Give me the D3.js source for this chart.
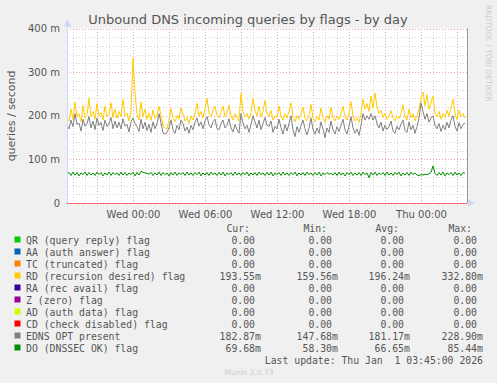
<!DOCTYPE html>
<html>
<head>
<meta charset="utf-8">
<script src="https://cdn.jsdelivr.net/npm/d3@7"></script>
<style>
  body { margin: 0; background: #f0f0f0; }
  svg { display: block; }
</style>
</head>
<body>
<script>
// legend labels, in drawing order
var labels = [
    'QR (query reply) flag',
    'AA (auth answer) flag',
    'TC (truncated) flag',
    'RD (recursion desired) flag',
    'RA (rec avail) flag',
    'Z (zero) flag',
    'AD (auth data) flag',
    'CD (check disabled) flag',
    'EDNS OPT present',
    'DO (DNSSEC OK) flag'
];
var colors = ['#00CC00', '#0066B3', '#FF8000', '#FFCC00', '#330099',
              '#990099', '#CCFF00', '#FF0000', '#808080', '#008F00'];

// legend stats
var curVals = ['0.00', '0.00', '0.00', '193.55m', '0.00', '0.00', '0.00', '0.00', '182.87m', '69.68m'];
var minVals = ['0.00', '0.00', '0.00', '159.56m', '0.00', '0.00', '0.00', '0.00', '147.68m', '58.30m'];
var avgVals = ['0.00', '0.00', '0.00', '196.24m', '0.00', '0.00', '0.00', '0.00', '181.17m', '66.65m'];
var maxVals = ['0.00', '0.00', '0.00', '332.80m', '0.00', '0.00', '0.00', '0.00', '228.90m', '85.44m'];

// y ticks (milli queries / second)
var yTicks = [0, 100, 200, 300, 400];

// series, in m (1e-3) queries/second, one sample every 10 minutes
var rd = [
    195, 188, 215, 192, 231, 198, 205, 186, 224, 195, 201, 240, 199, 210, 192, 228, 200, 207, 190, 222,
    198, 205, 230, 196, 215, 194, 210, 198, 238, 200, 206, 188, 212, 332, 252, 205, 190, 232, 198, 215,
    192, 206, 189, 214, 193, 202, 222, 200, 176, 172, 170, 190, 217, 195, 186, 200, 192, 218, 205, 188,
    196, 182, 200, 190, 205, 228, 200, 210, 195, 215, 240, 205, 198, 212, 222, 200, 196, 208, 222, 198,
    206, 224, 200, 190, 205, 195, 188, 251, 210, 198, 205, 192, 208, 240, 212, 200, 222, 198, 210, 235,
    205, 198, 212, 190, 200, 196, 222, 200, 190, 205, 195, 210, 230, 198, 186, 200, 192, 205, 220, 195,
    188, 200, 226, 195, 186, 198, 190, 218, 196, 185, 200, 192, 220, 196, 188, 200, 192, 205, 222, 198,
    190, 205, 232, 200, 188, 196, 185, 205, 238, 215, 228, 210, 245, 218, 252, 220, 205, 212, 196, 205,
    192, 200, 212, 195, 188, 200, 194, 205, 225, 198, 190, 215, 196, 205, 188, 200, 215, 240, 254, 222,
    248, 215, 230, 245, 205, 198, 210, 192, 205, 196, 212, 200, 220, 238, 205, 192, 212, 198, 205, 194
];
var edns = [
    178, 170, 190, 175, 205, 180, 183, 165, 192, 176, 182, 198, 172, 188, 168, 195, 178, 185, 166, 190,
    175, 182, 196, 170, 188, 172, 185, 170, 193, 176, 180, 163, 186, 195, 182, 175, 164, 192, 170, 185,
    166, 180, 162, 186, 170, 182, 205, 184, 160, 158, 162, 172, 190, 168, 160, 178, 168, 190, 182, 165,
    174, 160, 178, 168, 185, 195, 176, 186, 170, 188, 198, 180, 172, 186, 192, 170, 168, 182, 190, 172,
    178, 193, 172, 163, 180, 168, 160, 205, 183, 170, 178, 162, 180, 200, 186, 172, 190, 168, 182, 196,
    178, 175, 188, 162, 176, 170, 192, 172, 158, 180, 165, 182, 200, 168, 152, 175, 162, 178, 190, 170,
    156, 172, 195, 168, 158, 172, 160, 186, 170, 150, 172, 162, 188, 168, 158, 175, 164, 178, 192, 168,
    158, 176, 198, 172, 160, 170, 155, 178, 205, 190, 200, 192, 205, 190, 200, 182, 172, 185, 165, 178,
    168, 175, 188, 165, 160, 176, 168, 180, 190, 166, 162, 186, 168, 178, 160, 175, 195, 229, 210, 192,
    205, 185, 195, 200, 178, 170, 182, 164, 178, 168, 185, 172, 190, 200, 176, 165, 184, 170, 180, 183
];
var dnssec = [
    66, 70, 63, 71, 64, 70, 62, 69, 65, 71, 63, 70, 64, 69, 63, 71, 65, 70, 62, 69,
    64, 71, 63, 70, 65, 69, 63, 71, 64, 70, 63, 69, 65, 71, 62, 70, 64, 73, 70, 69,
    68, 66, 70, 63, 69, 64, 71, 63, 70, 65, 69, 62, 70, 64, 71, 63, 69, 65, 70, 63,
    71, 64, 69, 63, 70, 65, 71, 62, 69, 64, 70, 63, 71, 65, 69, 63, 70, 64, 71, 62,
    69, 65, 70, 63, 71, 64, 69, 63, 70, 65, 71, 62, 69, 64, 70, 63, 71, 65, 69, 63,
    70, 64, 71, 62, 69, 65, 70, 63, 71, 64, 69, 63, 70, 65, 71, 62, 69, 64, 70, 63,
    71, 65, 69, 63, 70, 64, 71, 62, 69, 65, 70, 66, 68, 64, 70, 63, 71, 64, 69, 62,
    70, 65, 71, 63, 69, 64, 70, 63, 71, 65, 69, 58, 70, 64, 71, 63, 69, 65, 70, 63,
    71, 64, 69, 63, 70, 65, 71, 62, 69, 64, 70, 63, 71, 65, 69, 64, 63, 65, 64, 66,
    65, 67, 70, 85, 68, 63, 70, 64, 71, 62, 69, 65, 70, 63, 71, 64, 69, 63, 70, 68
];

// init
var width  = 497,
    height = 383,
    plot   = { left: 67, right: 467, top: 28.5, bottom: 203 };

var tStart = Date.UTC(2025, 11, 30, 18, 30),
    tEnd   = Date.UTC(2026, 0, 1, 3, 50),
    step   = 600000;

var xScale = d3.scaleUtc().domain([new Date(tStart), new Date(tEnd)]).range([plot.left, plot.right]);
var yScale = d3.scaleLinear().domain([0, 400]).range([plot.bottom, plot.top]);

var svg = d3.select('body').append('svg')
    .attr('width', width)
    .attr('height', height)
    .style('font-family', 'DejaVu Sans');

svg.append('rect').attr('width', width).attr('height', height).attr('fill', '#f0f0f0');
svg.append('rect')
    .attr('x', plot.left).attr('y', plot.top)
    .attr('width', plot.right - plot.left).attr('height', plot.bottom - plot.top)
    .attr('fill', '#fff');

// grid
function drawGrid() {
    var g = svg.append('g').attr('shape-rendering', 'crispEdges');
    // minor vertical, every hour
    g.selectAll('.vmin').data(xScale.ticks(d3.utcHour.every(1)))
        .join('line')
        .attr('x1', d => Math.round(xScale(d)) + 0.5).attr('x2', d => Math.round(xScale(d)) + 0.5)
        .attr('y1', plot.top).attr('y2', plot.bottom)
        .attr('stroke', '#d4d4d4').attr('stroke-dasharray', '1,2');
    // minor horizontal, every 20 m
    g.selectAll('.hmin').data(d3.range(0, 401, 20))
        .join('line')
        .attr('x1', plot.left).attr('x2', plot.right)
        .attr('y1', d => Math.round(yScale(d)) + 0.5).attr('y2', d => Math.round(yScale(d)) + 0.5)
        .attr('stroke', '#d4d4d4').attr('stroke-dasharray', '1,2');
    // major vertical, every 3 hours
    g.selectAll('.vmaj').data(xScale.ticks(d3.utcHour.every(3)))
        .join('line')
        .attr('x1', d => Math.round(xScale(d)) + 0.5).attr('x2', d => Math.round(xScale(d)) + 0.5)
        .attr('y1', plot.top).attr('y2', plot.bottom)
        .attr('stroke', '#eba3a3').attr('stroke-dasharray', '1,2');
    // major horizontal
    g.selectAll('.hmaj').data(yTicks)
        .join('line')
        .attr('x1', plot.left).attr('x2', plot.right)
        .attr('y1', d => Math.round(yScale(d)) + 0.5).attr('y2', d => Math.round(yScale(d)) + 0.5)
        .attr('stroke', '#eba3a3').attr('stroke-dasharray', '1,2');
}

// axes
function drawAxes() {
    var yAxis = d3.axisLeft(yScale)
        .tickValues(yTicks)
        .tickSize(0).tickPadding(7)
        .tickFormat(d => d === 0 ? '0' : d + ' m');
    var gy = svg.append('g').attr('transform', 'translate(' + plot.left + ',0)').call(yAxis);
    gy.select('.domain').remove();
    gy.selectAll('text').attr('fill', '#555').style('font-size', '10px').style('font-family', 'DejaVu Sans');

    var xAxis = d3.axisBottom(xScale)
        .ticks(d3.utcHour.every(6))
        .tickSize(0).tickPadding(8)
        .tickFormat(d3.utcFormat('%a %H:%M'));
    var gx = svg.append('g').attr('transform', 'translate(0,' + plot.bottom + ')').call(xAxis);
    gx.select('.domain').remove();
    gx.selectAll('text').attr('fill', '#555').style('font-size', '10px').style('font-family', 'DejaVu Sans');

    // axis lines and arrows
    svg.append('line')
        .attr('x1', plot.left + 0.5).attr('x2', plot.left + 0.5)
        .attr('y1', plot.top - 4).attr('y2', plot.bottom)
        .attr('stroke', '#CFD6F8');
    svg.append('path')
        .attr('d', 'M' + (plot.left - 3) + ',' + (plot.top - 2) + 'L' + (plot.left + 0.5) + ',' + (plot.top - 9) + 'L' + (plot.left + 4) + ',' + (plot.top - 2) + 'Z')
        .attr('fill', '#CFD6F8');
    svg.append('path')
        .attr('d', 'M' + (plot.right + 1) + ',' + (plot.bottom - 3.5) + 'L' + (plot.right + 8) + ',' + plot.bottom + 'L' + (plot.right + 1) + ',' + (plot.bottom + 3.5) + 'Z')
        .attr('fill', '#CFD6F8');
    svg.append('line')
        .attr('x1', plot.right + 0.5).attr('x2', plot.right + 0.5)
        .attr('y1', plot.top).attr('y2', plot.bottom)
        .attr('stroke', '#999');
}

// lines
function drawSeries() {
    var line = d3.line()
        .x((d, i) => xScale(new Date(tStart + i * step)))
        .y(d => yScale(d));
    var zeroLine = d3.line()
        .x(d => xScale(d))
        .y(() => Math.round(yScale(0)) + 0.5);
    // flat zero series, blended as one group
    var zeroG = svg.append('g').attr('opacity', 0.5).attr('shape-rendering', 'crispEdges');
    var series = [null, null, null, rd, null, null, null, null, edns, dnssec];
    series.forEach(function (s, k) {
        if (s) return;
        zeroG.append('path')
            .attr('fill', 'none')
            .attr('stroke', colors[k])
            .attr('d', zeroLine(xScale.domain()));
    });
    series.forEach(function (s, k) {
        if (!s) return;
        svg.append('path')
            .attr('fill', 'none')
            .attr('stroke', colors[k])
            .attr('stroke-width', 1)
            .attr('d', line(s));
    });
}

// texts
function drawTexts() {
    svg.append('text')
        .attr('x', 248).attr('y', 24)
        .attr('text-anchor', 'middle')
        .attr('fill', '#555')
        .style('font-size', '13px')
        .text('Unbound DNS incoming queries by flags - by day');

    svg.append('text')
        .attr('transform', 'translate(15,116) rotate(-90)')
        .attr('text-anchor', 'middle')
        .attr('fill', '#555')
        .style('font-size', '11px')
        .text('queries / second');

    svg.append('text')
        .attr('transform', 'translate(486,5) rotate(90)')
        .attr('fill', '#ccc')
        .style('font-size', '7.5px')
        .text('RRDTOOL / TOBI OETIKER');

    svg.append('text')
        .attr('x', 249).attr('y', 375)
        .attr('text-anchor', 'middle')
        .attr('fill', '#ccc')
        .style('font-size', '7.5px')
        .text('Munin 2.0.73');
}

// legend
function drawLegend() {
    var mono = 'DejaVu Sans Mono';
    var lg = svg.append('g').style('font-family', mono).style('font-size', '9.8px').attr('fill', '#555');
    var cols = [255, 332, 404, 477];
    ['Cur:', 'Min:', 'Avg:', 'Max:'].forEach(function (h, c) {
        lg.append('text').attr('x', cols[c] - 5).attr('y', 231.5).attr('text-anchor', 'end').text(h);
    });
    var stats = [curVals, minVals, avgVals, maxVals];
    labels.forEach(function (name, k) {
        var y = 243.5 + k * 12;
        lg.append('rect').attr('x', 14.5).attr('y', y - 7).attr('width', 6).attr('height', 6).attr('fill', colors[k]);
        lg.append('text').attr('x', 26).attr('y', y).text(name);
        stats.forEach(function (arr, c) {
            var v = arr[k];
            var num = v.replace('m', '');
            lg.append('text').attr('x', cols[c]).attr('y', y).attr('text-anchor', 'end').text(num);
            if (v.endsWith('m')) lg.append('text').attr('x', cols[c]).attr('y', y).text('m');
        });
    });
    lg.append('text').attr('x', 483).attr('y', 363.5).attr('text-anchor', 'end')
        .attr('xml:space', 'preserve').style('white-space', 'pre')
        .text('Last update: Thu Jan  1 03:45:00 2026');
}

drawGrid();
drawSeries();
drawAxes();
drawTexts();
drawLegend();
</script>
</body>
</html>
